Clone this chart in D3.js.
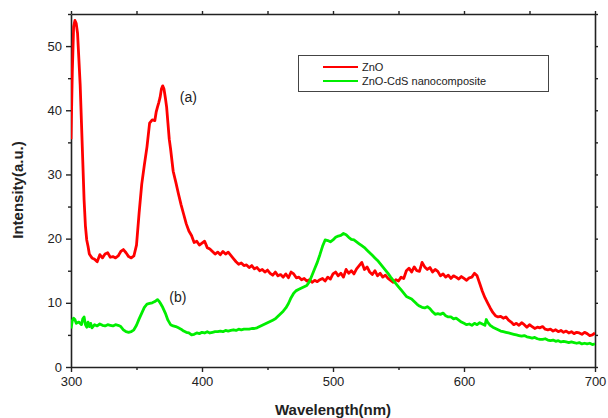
<!DOCTYPE html>
<html><head><meta charset="utf-8">
<script src="https://cdn.jsdelivr.net/npm/d3@7"></script>
<style>
html,body{margin:0;padding:0;background:#fff;}
text{font-family:"Liberation Sans",Arial,sans-serif;}
</style></head>
<body><svg id="c" width="608" height="418"></svg>
<script>
// ZnO (a) — wavelength (nm) and intensity (a.u.)
const znoWl = [300,301,302,303,304,305,306,307,308,309,310,311,312,313,314,315,316,318,320,322,324,326,328,330,332,334,336,338,340,342,344,346,348,350,352,354,356,358,360,362,364,365,366,367,368,369,370,371,372,373,374,375,376,378,380,382,384,386,388,390,392,394,396,398,400,402,404,406,408,410,412,414,416,418,420,422,424,426,428,430,432,434,436,438,440,442,444,446,448,450,452,454,456,458,460,462,464,466,468,470,472,474,476,478,480,482,484,486,488,490,492,494,496,498,500,502,504,506,508,510,512,514,516,518,520,522,524,526,528,530,532,534,536,538,540,542,544,546,548,550,552,554,556,558,560,562,564,566,568,570,572,574,576,578,580,582,584,586,588,590,592,594,596,598,600,602,604,606,608,610,612,614,616,618,620,622,624,626,628,630,632,634,636,638,640,642,644,646,648,650,652,654,656,658,660,662,664,666,668,670,672,674,676,678,680,682,684,686,688,690,692,694,696,698,700];
const znoInt = [35.5,46,53,54,53.5,52,48,44,38,32,26,22,19.8,18.8,17.6,17.3,17,16.8,16.4,17.5,17,17.6,17.8,17.1,17.2,17,17.3,18,18.3,17.8,17.2,17,17.3,19,24,28.5,31.5,34.3,38,38.5,38.4,39.7,40.5,41.2,42,43.3,43.8,43.3,42,40.5,38,35.5,34,30.5,28.8,27,25.3,23.8,22.3,21.2,20.5,19.4,19.6,19,19.3,19.6,18.6,18.4,18,17.6,17.9,17.5,18,17.6,17.9,17.4,16.9,16.4,16,16.2,15.8,15.9,15.5,15.8,15.3,15.5,15,15.2,14.8,15.1,14.6,14.3,14.8,14.2,14.4,14,14.5,13.9,14.8,14.5,13.9,14,13.6,13.8,13.4,13.6,13.2,13.5,13.3,13.6,13.8,13.4,14,13.7,14.5,14.8,14.2,14.6,14,15.2,14.6,15,14.5,15.3,15.8,16.3,15.2,15.6,14.8,14.4,15,14.2,14.6,14,14.3,13.8,13.5,13.2,13.6,13.4,14,13.8,15,15.4,14.8,15.6,15,14.9,16.3,15.6,15.2,15.5,14.8,15.2,14.9,14.2,14.5,14,14.3,13.8,14.2,14,13.7,14.1,13.8,13.5,13.9,14,14.6,14.2,13,11.8,10.8,10,9.2,8.5,8,7.8,7.9,7.6,7.8,7.3,7,6.6,6.8,6.5,6.9,6.6,6.2,6.6,6.3,6,6.2,6.1,6.3,5.9,5.8,5.9,5.6,5.8,5.5,5.7,5.4,5.6,5.3,5.5,5.2,5.4,5.3,5.1,5.4,5.2,4.9,5,5.3];
// ZnO-CdS nanocomposite (b)
const cdsWl = [300,301,302,303,304,306,308,309,310,311,312,313,314,315,316,318,320,322,324,326,328,330,332,334,336,338,340,342,344,346,348,350,352,354,356,358,360,362,364,366,367,368,370,372,374,376,378,380,382,384,386,388,390,392,394,396,398,400,402,404,406,408,410,412,414,416,418,420,422,424,426,428,430,432,434,436,438,440,442,444,446,448,450,452,454,456,458,460,462,464,466,468,470,472,474,476,478,480,482,484,486,488,490,492,494,496,498,500,502,504,506,508,510,512,514,516,518,520,522,524,526,528,530,532,534,536,538,540,542,544,546,548,550,552,554,556,558,560,562,564,566,568,570,572,574,576,578,580,582,584,586,588,590,592,594,596,598,600,602,604,606,608,610,612,614,616,617,618,620,622,624,626,628,630,632,634,636,638,640,642,644,646,648,650,652,654,656,658,660,662,664,666,668,670,672,674,676,678,680,682,684,686,688,690,692,694,696,698,700];
const cdsInt = [6,7.2,7.6,7.4,6.8,7,6.6,7.5,7.8,6.6,6.2,7,6.3,6.8,6.1,6.6,6.4,6.7,6.5,6.4,6.6,6.5,6.4,6.6,6.5,6.3,5.8,5.5,5.4,5.5,5.8,6.5,7.5,8.4,9.3,9.8,9.9,10,10.2,10.5,10.3,10,9.3,8.4,7.3,6.6,6.4,6.3,6.1,5.9,5.6,5.4,5.3,5,5.1,5.3,5.2,5.4,5.3,5.5,5.3,5.4,5.5,5.5,5.6,5.5,5.7,5.6,5.7,5.8,5.7,5.9,5.8,5.9,5.9,5.9,6,6,6.1,6.3,6.5,6.7,6.9,7.1,7.3,7.5,7.9,8.3,8.7,9.2,9.9,10.8,11.5,11.9,12.1,12.3,12.5,12.7,13.3,14.3,15.3,16.3,17.5,18.8,19.8,19.7,19.5,19.8,20.2,20.4,20.5,20.8,20.6,20.2,19.9,19.8,19.5,19.2,18.9,18.6,18.2,17.8,17.4,17,16.6,16.1,15.6,15.1,14.6,14,13.5,13,12.5,12,11.5,11,10.8,10.6,10.2,9.8,9.5,9.3,9.2,9.4,9.1,8.6,8.2,8.3,8.2,8.4,8,7.8,7.8,7.5,7.6,7.3,7,6.8,6.6,6.7,6.5,6.8,6.6,6.9,6.7,6.5,7.4,7,6.5,6.2,6,5.8,5.6,5.5,5.4,5.3,5.2,5.1,5,4.9,4.8,4.9,4.7,4.6,4.5,4.6,4.4,4.3,4.3,4.4,4.2,4.1,4.2,4,4.1,3.9,4,3.9,3.8,3.9,3.8,3.7,3.8,3.6,3.7,3.6,3.7,3.5,3.6];
const xTicks = [300,400,500,600,700];
const yTicks = [0,10,20,30,40,50];
const seriesNames = ["ZnO","ZnO-CdS nanocomposite"];
const seriesColors = ["#ff0000","#00ee00"];

const svg = d3.select("#c");
const L=71, R=595, T=14, B=367;
const x = d3.scaleLinear().domain([300,700]).range([L,R]);
const y = d3.scaleLinear().domain([0,55]).range([B,T]);
const axCol = "#222";

// minor ticks
const xMinor = d3.range(350,700,100);
const yMinor = d3.range(5,56,10);

function styleAxis(g){
  g.selectAll("path").attr("stroke",axCol).attr("stroke-width",1.6);
  g.selectAll("line").attr("stroke",axCol).attr("stroke-width",1.4);
  g.selectAll("text").attr("fill","#222").attr("font-size","13px");
}
// bottom
const gb = svg.append("g").attr("transform",`translate(0,${B})`)
  .call(d3.axisBottom(x).tickValues(xTicks).tickSize(5).tickPadding(5).tickSizeOuter(0));
styleAxis(gb);
svg.append("g").attr("transform",`translate(0,${B})`)
  .call(d3.axisBottom(x).tickValues(xMinor).tickSize(3).tickFormat("").tickSizeOuter(0))
  .call(g=>{g.select("path").remove();styleAxis(g);});
// left
const gl = svg.append("g").attr("transform",`translate(${L},0)`)
  .call(d3.axisLeft(y).tickValues(yTicks).tickSize(5).tickPadding(4).tickSizeOuter(0));
styleAxis(gl);
svg.append("g").attr("transform",`translate(${L},0)`)
  .call(d3.axisLeft(y).tickValues(yMinor).tickSize(3).tickFormat("").tickSizeOuter(0))
  .call(g=>{g.select("path").remove();styleAxis(g);});
// top
svg.append("g").attr("transform",`translate(0,${T})`)
  .call(d3.axisTop(x).tickValues(xTicks.concat(xMinor)).tickSize(3).tickFormat("").tickSizeOuter(0))
  .call(styleAxis);
// right
svg.append("g").attr("transform",`translate(${R},0)`)
  .call(d3.axisRight(y).tickValues(yTicks.concat(yMinor)).tickSize(3).tickFormat("").tickSizeOuter(0))
  .call(styleAxis);

// lines
const line = d3.line().x(d=>x(d[0])).y(d=>y(d[1]));
const clip = svg.append("clipPath").attr("id","clp").append("rect")
  .attr("x",L).attr("y",T-2).attr("width",R-L).attr("height",B-T+2);
const dataSets = [d3.zip(znoWl,znoInt), d3.zip(cdsWl,cdsInt)];
dataSets.forEach((ds,i)=>{
  svg.append("path").datum(ds).attr("d",line).attr("fill","none")
    .attr("stroke",seriesColors[i]).attr("stroke-width",2.8)
    .attr("stroke-linejoin","round").attr("clip-path","url(#clp)");
});

// curve labels
svg.append("text").attr("x",x(383)).attr("y",y(41.3)).attr("font-size","14px").attr("fill","#222").text("(a)");
svg.append("text").attr("x",x(375)).attr("y",y(10.2)).attr("font-size","14px").attr("fill","#222").text("(b)");

// legend
const lg = svg.append("g");
lg.append("rect").attr("x",298.5).attr("y",55.5).attr("width",250).attr("height",36)
  .attr("fill","#fff").attr("stroke","#444").attr("stroke-width",1);
seriesNames.forEach((n,i)=>{
  const yy = 67 + i*14;
  lg.append("line").attr("x1",323).attr("x2",358).attr("y1",yy).attr("y2",yy)
    .attr("stroke",seriesColors[i]).attr("stroke-width",2);
  lg.append("text").attr("x",362).attr("y",yy+4).attr("font-size","11px").attr("fill","#222").text(n);
});

// axis titles
svg.append("text").attr("x",333).attr("y",415).attr("text-anchor","middle")
  .attr("font-size","15px").attr("font-weight","bold").attr("fill","#222").text("Wavelength(nm)");
svg.append("text").attr("transform","translate(23,190) rotate(-90)").attr("text-anchor","middle")
  .attr("font-size","15px").attr("font-weight","bold").attr("fill","#222").text("Intensity(a.u.)");
</script></body></html>
